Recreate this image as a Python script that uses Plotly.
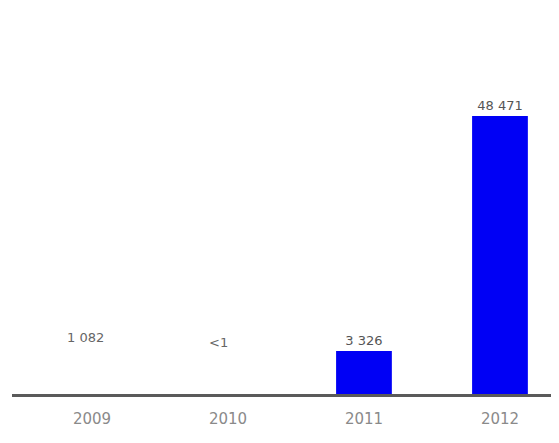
import plotly.graph_objects as go

years = ["2009", "2010", "2011", "2012"]
values = [1082, 0.5, 3326, 48471]
value_labels = ["1 082", "&lt;1", "3 326", "48 471"]

# bars whose value lies below the axis floor get their label as an annotation
axis_floor = 10 ** 3.309
label_paper_pos = {0: (0.1335, 0.150), 1: (0.378, 0.139)}

fig = go.Figure()
fig.add_trace(go.Bar(
    x=years, y=values,
    marker=dict(color="#0000F5", line=dict(width=0)),
    width=0.41,
    text=[lab if v > axis_floor else "" for v, lab in zip(values, value_labels)],
    textposition="outside",
    textfont=dict(size=13, color="#555555", family="DejaVu Sans"),
    cliponaxis=False,
    hoverinfo="skip",
))

for i, (v, lab) in enumerate(zip(values, value_labels)):
    if v <= axis_floor:
        px, py = label_paper_pos[i]
        fig.add_annotation(
            x=px, y=py, xref="paper", yref="paper",
            xanchor="center", yanchor="middle",
            text=lab, showarrow=False,
            font=dict(size=13, color="#666666", family="DejaVu Sans"),
        )

fig.update_layout(
    width=551, height=435,
    margin=dict(l=4, r=0, t=12, b=49),
    paper_bgcolor="white", plot_bgcolor="white",
    showlegend=False,
    font=dict(family="DejaVu Sans, sans-serif"),
    uniformtext=dict(minsize=13, mode="show"),
    xaxis=dict(
        type="category", range=[-0.588, 3.434],
        showline=True, linecolor="#5a5a5a", linewidth=2.5,
        showgrid=False, zeroline=False,
        ticks="outside", ticklen=9, tickcolor="rgba(0,0,0,0)",
        tickfont=dict(size=15, color="#8a8a8a"),
    ),
    yaxis=dict(
        type="log", range=[3.309, 5.16],
        visible=False, showgrid=False, zeroline=False,
    ),
)

fig.write_html("out.html")
